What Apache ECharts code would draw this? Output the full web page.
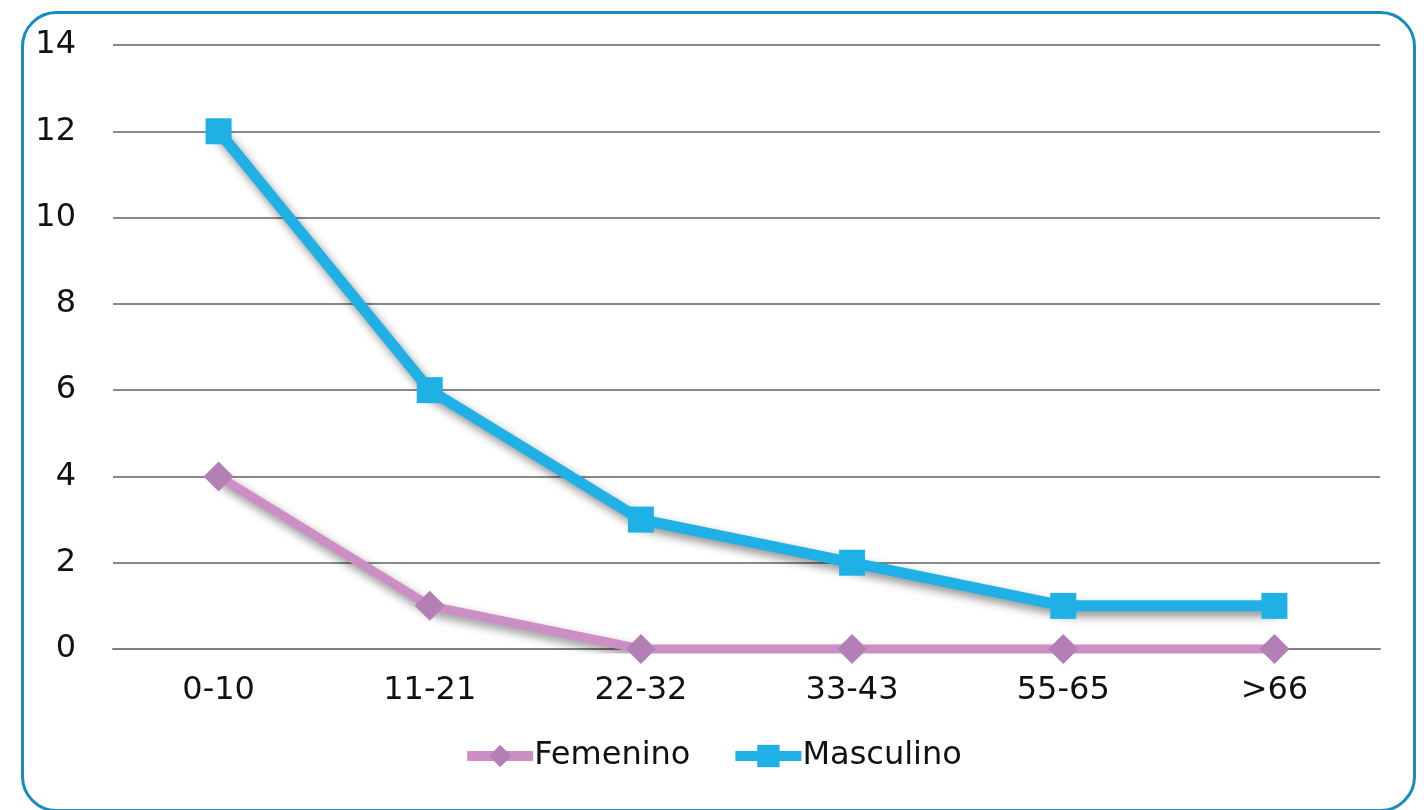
<!DOCTYPE html>
<html><head><meta charset="utf-8">
<script src="https://cdn.jsdelivr.net/npm/echarts@6/dist/echarts.min.js"></script>
<style>html,body{margin:0;padding:0;background:#fff}#c{width:1424px;height:810px}</style>
</head><body><div id="c"></div>
<script>
const categories = ['0-10','11-21','22-32','33-43','55-65','>66'];
const femenino = [4, 1, 0, 0, 0, 0];
const masculino = [12, 6, 3, 2, 1, 1];
const yTicks = [0, 2, 4, 6, 8, 10, 12, 14];

const chart = echarts.init(document.getElementById('c'));
const font = '"DejaVu Sans", sans-serif';
chart.setOption({
  animation: false,
  textStyle: {fontFamily: font},
  graphic: [{
    type: 'rect', left: 20, top: 10,
    shape: {width: 1392, height: 798, r: 34},
    style: {fill: 'none', stroke: '#1a8bc2', lineWidth: 3},
    z: -1
  }],
  grid: {left: 113, right: 44, top: 45, bottom: 161},
  legend: {
    bottom: 33, left: 'center', itemGap: 40, itemWidth: 66, itemHeight: 28,
    textStyle: {fontSize: 32, color: '#111', fontFamily: font, padding: [0,0,0,-4]},
    lineStyle: {width: 10},
    data: ['Femenino', 'Masculino']
  },
  xAxis: {
    type: 'category', data: categories, boundaryGap: true,
    axisLine: {show: true, lineStyle: {color: '#7f7f7f', width: 2}},
    axisTick: {show: false},
    axisLabel: {fontSize: 32, color: '#111', margin: 26, fontFamily: font}
  },
  yAxis: {
    type: 'value', min: 0, max: 14, interval: 2,
    axisLine: {show: false}, axisTick: {show: false},
    axisLabel: {fontSize: 32, color: '#111', margin: 37, fontFamily: font,
      formatter: v => yTicks.includes(v) ? String(v) : ''},
    splitLine: {lineStyle: {color: '#888', width: 2}}
  },
  series: [{
    name: 'Femenino', type: 'line', data: femenino,
    symbol: 'diamond', symbolSize: 30,
    itemStyle: {color: '#b47fb5'},
    lineStyle: {color: '#cc8fc4', width: 9, shadowColor: 'rgba(0,0,0,0.45)', shadowBlur: 10, shadowOffsetX: 3, shadowOffsetY: 5},
    z: 3
  }, {
    name: 'Masculino', type: 'line', data: masculino,
    symbol: 'rect', symbolSize: 26,
    itemStyle: {color: '#1fb0e6'},
    lineStyle: {color: '#1fb0e6', width: 11, shadowColor: 'rgba(0,0,0,0.45)', shadowBlur: 10, shadowOffsetX: 3, shadowOffsetY: 5},
    z: 4
  }]
});
</script></body></html>
